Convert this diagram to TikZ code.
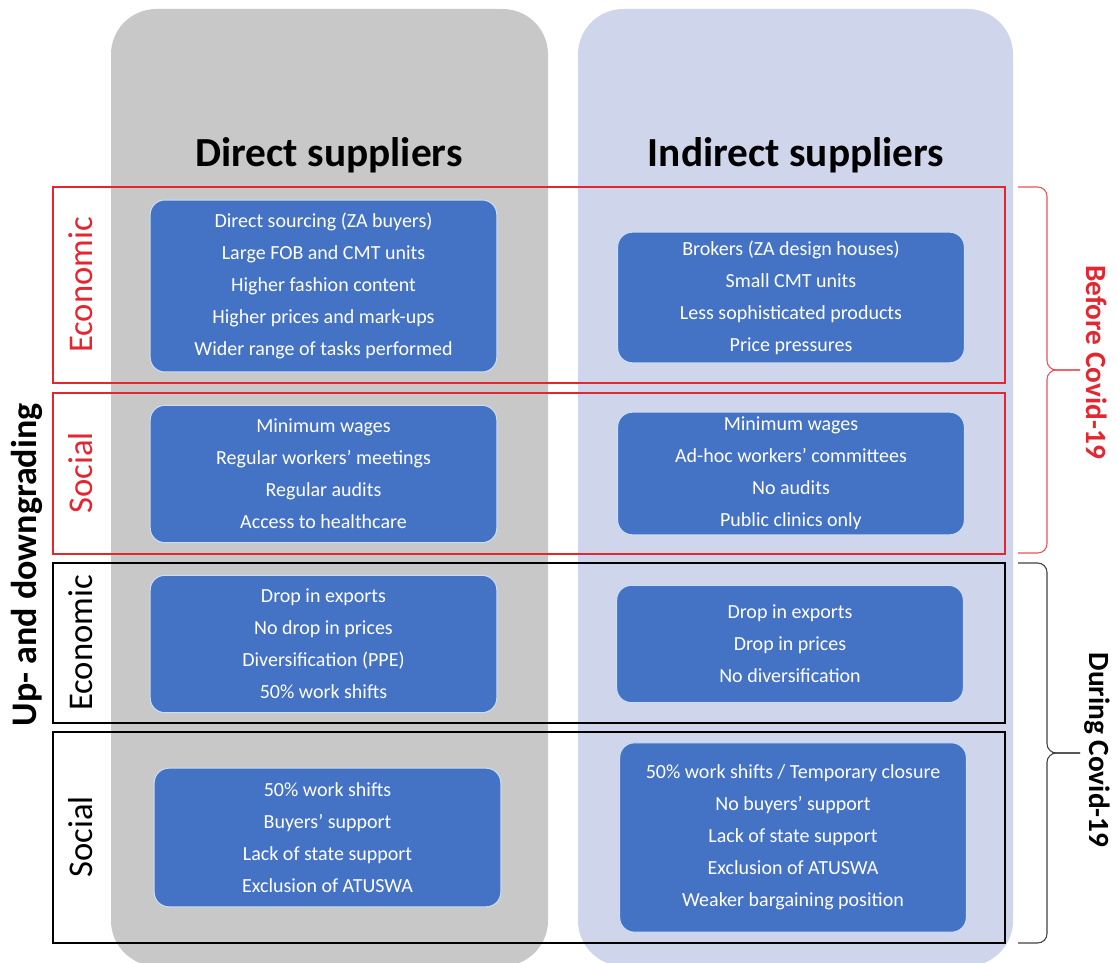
\documentclass[tikz,border=0pt]{standalone}
\usepackage{fontspec}
\setmainfont{Carlito}

\definecolor{colgray}{RGB}{200,200,200}
\definecolor{collav}{RGB}{207,213,234}
\definecolor{boxblue}{RGB}{68,114,196}
\definecolor{boxedge}{RGB}{200,222,245}
\definecolor{redc}{RGB}{228,38,48}

\tikzset{
  item/.style={fill=boxblue, draw=boxedge, line width=0.8pt, rounded corners=11pt,
    text=white, align=center, inner sep=0pt, minimum width=260pt,
    font=\fontsize{15}{24}\selectfont},
  heading/.style={font=\bfseries\fontsize{31}{36}\selectfont},
  band/.style={draw=#1, line width=2.2pt},
  dim/.style={rotate=90, font=\fontsize{26}{30}\selectfont},
  phase/.style={rotate=-90, font=\bfseries\fontsize{22}{26}\selectfont},
  curly/.style={line width=0.8pt, rounded corners=7pt}
}

\begin{document}
\begin{tikzpicture}[x=0.75pt, y=-0.75pt]
\useasboundingbox (0,0) rectangle (1117,963);

% columns
\fill[colgray, rounded corners=34pt] (111,9) rectangle (548,966);
\fill[collav, rounded corners=34pt] (578,9) rectangle (1013,966);
\node[heading] (direct) at (329,155) {Direct suppliers};
\node[heading] (indirect) at (796,155) {Indirect suppliers};

% bands
\draw[band=redc] (53,187) rectangle (1005,383);
\draw[band=redc] (53,393) rectangle (1005,554);
\draw[band=black] (53,563) rectangle (1005,723);
\draw[band=black] (53,732) rectangle (1005,943);

\node[dim, text=redc] (econB) at (81,285) {Economic};
\node[dim, text=redc] (socB) at (81,473) {Social};
\node[dim] (econD) at (81,643) {Economic};
\node[dim] (socD) at (81,837) {Social};
\node[rotate=90, font=\bfseries\fontsize{27}{30}\selectfont] (updown) at (27,565) {Up- and downgrading};

% boxes
\node[item, minimum height=129pt] (d1) at (323.5,286) {Direct sourcing (ZA buyers)\\Large FOB and CMT units\\Higher fashion content\\Higher prices and mark-ups\\Wider range of tasks performed};
\node[item, minimum height=98pt] (i1) at (791,297.5) {Brokers (ZA design houses)\\Small CMT units\\Less sophisticated products\\Price pressures};
\node[item, minimum height=103pt] (d2) at (323.5,474) {Minimum wages\\Regular workers’ meetings\\Regular audits\\Access to healthcare};
\node[item, minimum height=92pt] (i2) at (791,473.5) {Minimum wages\\Ad-hoc workers’ committees\\No audits\\Public clinics only};
\node[item, minimum height=103pt] (d3) at (323.5,644) {Drop in exports\\No drop in prices\\Diversification (PPE)\\50\% work shifts};
\node[item, minimum height=88pt] (i3) at (790,644) {Drop in exports\\Drop in prices\\No diversification};
\node[item, minimum height=104pt] (d4) at (327.5,837.5) {50\% work shifts\\Buyers’ support\\Lack of state support\\Exclusion of ATUSWA};
\node[item, minimum height=142pt] (i4) at (793,837.5) {50\% work shifts / Temporary closure\\No buyers’ support\\Lack of state support\\Exclusion of ATUSWA\\Weaker bargaining position};

% braces
\coordinate (bt) at (1018,187);
\coordinate (bb) at (1018,553);
\coordinate (btip) at (1080,370);
\coordinate (dt) at (1018,563);
\coordinate (db) at (1018,943);
\coordinate (dtip) at (1080,753);
\draw[curly, redc!80] (bt) -- ++(29,0) |- (btip);
\draw[curly, redc!80] (bb) -- ++(29,0) |- (btip);
\draw[curly, black!75] (dt) -- ++(29,0) |- (dtip);
\draw[curly, black!75] (db) -- ++(29,0) |- (dtip);
\node[phase, text=redc] (before) at (1097,362) {Before Covid-19};
\node[phase] (during) at (1097,750) {During Covid-19};
\end{tikzpicture}
\end{document}
